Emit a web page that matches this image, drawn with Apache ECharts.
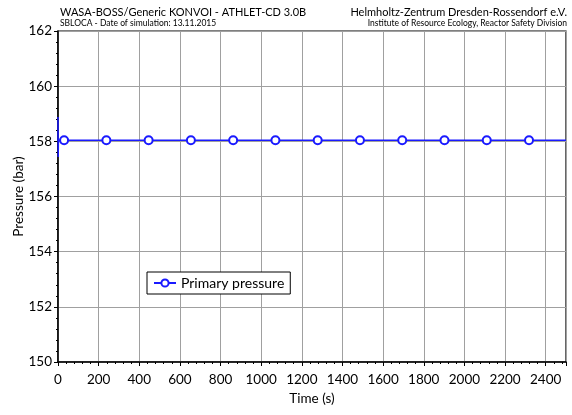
<!DOCTYPE html>
<html>
<head>
<meta charset="utf-8">
<script src="https://cdn.jsdelivr.net/npm/echarts@6/dist/echarts.min.js"></script>
<style>
  html, body { margin: 0; padding: 0; background: #fff; }
  #chart { width: 572px; height: 415px; }
</style>
</head>
<body>
<div id="chart"></div>
<script>
// Primary circuit pressure over time (ATHLET-CD run)
var timeSec = [0, 0, 1, 2, 30, 238, 446, 654, 862, 1070, 1278, 1486, 1694, 1902, 2110, 2318, 2500];
var pressureBar = [158.0, 158.88, 157.43, 158.04, 158.04, 158.04, 158.04, 158.04, 158.04, 158.04, 158.04, 158.04, 158.04, 158.04, 158.04, 158.04, 158.04];
var markerTimes = [30, 238, 446, 654, 862, 1070, 1278, 1486, 1694, 1902, 2110, 2318];
var xTicks = [0, 200, 400, 600, 800, 1000, 1200, 1400, 1600, 1800, 2000, 2200, 2400];
var yTicks = [150, 152, 154, 156, 158, 160, 162];

var FONT = 'Lato, "Open Sans", sans-serif';
var BLUE = '#1a1aff';

var seriesData = timeSec.map(function (t, i) {
  var item = { value: [t, pressureBar[i]] };
  if (markerTimes.indexOf(t) < 0) {
    item.symbol = 'none';
  }
  return item;
});

function headerText(x, y, text, size, align) {
  return {
    type: 'text', x: x, y: y,
    style: { text: text, font: size + 'px ' + FONT, fill: '#000', align: align, verticalAlign: 'middle' }
  };
}

var chart = echarts.init(document.getElementById('chart'), null, { renderer: 'canvas' });
chart.setOption({
  animation: false,
  backgroundColor: '#fff',
  grid: {
    left: 58, right: 6, top: 31, bottom: 53,
    outerBoundsMode: 'none', containLabel: false,
    show: true, borderColor: '#000', borderWidth: 1.2
  },
  graphic: [
    headerText(60, 12, 'WASA-BOSS/Generic KONVOI - ATHLET-CD 3.0B', 11, 'left'),
    headerText(60, 23, 'SBLOCA - Date of simulation: 13.11.2015', 8.5, 'left'),
    headerText(567, 12, 'Helmholtz-Zentrum Dresden-Rossendorf e.V.', 11, 'right'),
    headerText(567, 23, 'Institute of Resource Ecology, Reactor Safety Division', 8.5, 'right')
  ],
  legend: {
    left: 147, top: 272,
    orient: 'horizontal',
    backgroundColor: '#fff',
    borderColor: '#000',
    borderWidth: 1,
    borderRadius: 0,
    padding: [4, 6, 4, 6],
    itemWidth: 22,
    itemHeight: 9,
    itemGap: 4,
    textStyle: { fontFamily: FONT, fontSize: 14, color: '#000' },
    data: ['Primary pressure']
  },
  xAxis: {
    type: 'value',
    min: 0, max: 2500, interval: 200,
    name: 'Time (s)',
    nameLocation: 'middle',
    nameGap: 30,
    nameTextStyle: { fontFamily: FONT, fontSize: 13.5, color: '#000' },
    axisLine: { show: true, lineStyle: { color: '#000', width: 1.5 } },
    axisTick: { show: true, length: 4, lineStyle: { color: '#000' } },
    minorTick: { show: true, splitNumber: 5, length: 2, lineStyle: { color: '#000' } },
    axisLabel: {
      fontFamily: FONT, fontSize: 13.5, color: '#000', margin: 11,
      formatter: function (v) { return xTicks.indexOf(v) >= 0 ? String(v) : ''; }
    },
    splitLine: { show: true, lineStyle: { color: '#a0a0a0', width: 1 } }
  },
  yAxis: {
    type: 'value',
    min: 150, max: 162, interval: 2,
    name: 'Pressure (bar)',
    nameLocation: 'middle',
    nameGap: 32,
    nameMoveOverlap: false,
    nameRotate: 90,
    nameTextStyle: { fontFamily: FONT, fontSize: 13.5, color: '#000' },
    axisLine: { show: true, lineStyle: { color: '#000', width: 1.5 } },
    axisTick: { show: true, length: 4, lineStyle: { color: '#000' } },
    minorTick: { show: true, splitNumber: 5, length: 2, lineStyle: { color: '#000' } },
    axisLabel: {
      fontFamily: FONT, fontSize: 13.5, color: '#000', margin: 6,
      formatter: function (v) { return yTicks.indexOf(v) >= 0 ? String(v) : ''; }
    },
    splitLine: { show: true, lineStyle: { color: '#a0a0a0', width: 1 } }
  },
  series: [{
    name: 'Primary pressure',
    type: 'line',
    symbol: 'emptyCircle',
    symbolSize: 8,
    showAllSymbol: true,
    itemStyle: { color: BLUE, borderWidth: 1.3 },
    lineStyle: { color: BLUE, width: 1.5 },
    data: seriesData
  }]
});
</script>
</body>
</html>
